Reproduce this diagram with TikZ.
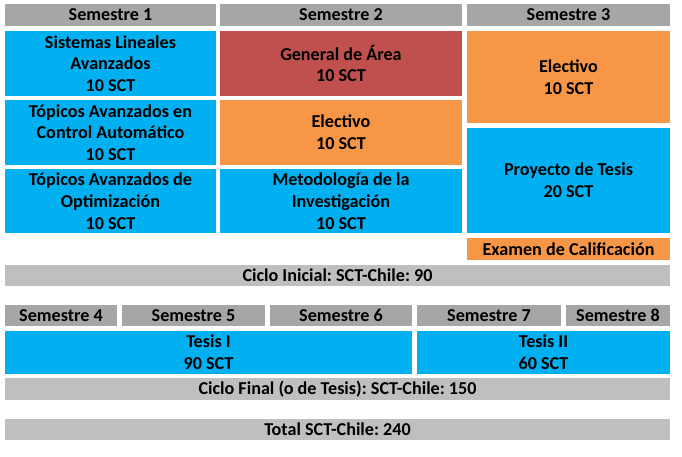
\documentclass[tikz,border=0pt]{standalone}
\usepackage{fontspec}
\setmainfont{Carlito}
\frenchspacing
\definecolor{hdr}{HTML}{A6A6A6}
\definecolor{bar}{HTML}{BFBFBF}
\definecolor{cblue}{HTML}{00B0F0}
\definecolor{cred}{HTML}{C0504D}
\definecolor{corange}{HTML}{F79646}
\newcommand\mycell[7]{%
  \pgfmathsetmacro\cw{(#4-#2)*0.75}%
  \pgfmathsetmacro\ch{(#5-#3)*0.75}%
  \node[cellbox, #6, minimum width=\cw pt, minimum height=\ch pt] (#1) at (#2,#3) {#7};%
}
\begin{document}
\begin{tikzpicture}[x=0.75pt,y=-0.75pt,
  cellbox/.style={anchor=north west, inner sep=0pt, outer sep=0pt, align=center,
    font=\frenchspacing\bfseries\fontsize{13.6}{16.3}\selectfont, text=black},
  hdrbox/.style={fill=hdr},
  barbox/.style={fill=bar},
  bluebox/.style={fill=cblue},
  redbox/.style={fill=cred},
  orangebox/.style={fill=corange}]
\useasboundingbox (0,0) rectangle (682,457);
% headers
\mycell{s1}{5}{4}{216}{26}{hdrbox}{Semestre 1}
\mycell{s2}{220}{4}{462}{26}{hdrbox}{Semestre 2}
\mycell{s3}{467}{4}{670}{26}{hdrbox}{Semestre 3}
% semester 1
\mycell{a1}{5}{31}{216}{96}{bluebox}{Sistemas Lineales\\Avanzados\\10 SCT}
\mycell{a2}{5}{100}{216}{165}{bluebox}{Tópicos Avanzados en\\Control Automático\\10 SCT}
\mycell{a3}{5}{169}{216}{233}{bluebox}{Tópicos Avanzados de\\Optimización\\10 SCT}
% semester 2
\mycell{b1}{220}{31}{462}{96}{redbox}{General de Área\\10 SCT}
\mycell{b2}{220}{100}{462}{165}{orangebox}{Electivo\\10 SCT}
\mycell{b3}{220}{169}{462}{233}{bluebox}{Metodología de la\\Investigación\\10 SCT}
% semester 3
\mycell{c1}{467}{31}{670}{123}{orangebox}{Electivo\\10 SCT}
\mycell{c2}{467}{128}{670}{233}{bluebox, text depth=-3pt}{Proyecto de Tesis\\20 SCT}
\mycell{ex}{467}{238}{670}{260}{orangebox}{Examen de Calificación}
\mycell{ci}{5}{265}{670}{286}{barbox}{Ciclo Inicial: SCT-Chile: 90}
% second part
\mycell{s4}{5}{305}{117}{326}{hdrbox}{Semestre 4}
\mycell{s5}{122}{305}{265}{326}{hdrbox}{Semestre 5}
\mycell{s6}{270}{305}{412}{326}{hdrbox}{Semestre 6}
\mycell{s7}{417}{305}{561}{326}{hdrbox}{Semestre 7}
\mycell{s8}{566}{305}{670}{326}{hdrbox}{Semestre 8}
\mycell{t1}{5}{331}{412}{374}{bluebox}{Tesis I\\90 SCT}
\mycell{t2}{417}{331}{670}{374}{bluebox}{Tesis II\\60 SCT}
\mycell{cf}{5}{378}{670}{400}{barbox}{Ciclo Final (o de Tesis): SCT-Chile: 150}
\mycell{tt}{5}{419}{670}{440}{barbox}{Total SCT-Chile: 240}
\end{tikzpicture}
\end{document}
